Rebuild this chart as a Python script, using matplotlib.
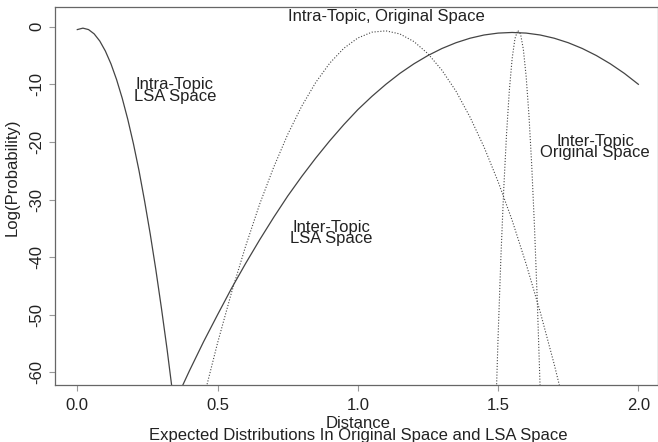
import matplotlib
matplotlib.use("Agg")
import matplotlib.pyplot as plt

# ── Curve values ──────────────────────────────────────────────────────────────

# Intra-Topic, LSA space (solid)
intra_lsa_x = [0.00, 0.02, 0.04, 0.06, 0.08, 0.10, 0.12, 0.14, 0.16, 0.18,
               0.20, 0.22, 0.24, 0.26, 0.28, 0.30, 0.32, 0.34]
intra_lsa_y = [-0.50, -0.25, -0.50, -1.24, -2.48, -4.22, -6.45, -9.18, -12.4, -16.1,
               -20.3, -25.0, -30.3, -36.0, -42.2, -48.9, -56.0, -63.7]

# Inter-Topic, LSA space (solid)
inter_lsa_x = [0.36, 0.40, 0.45, 0.50, 0.55, 0.60, 0.65, 0.70, 0.75, 0.80,
               0.85, 0.90, 0.95, 1.00, 1.05, 1.10, 1.15, 1.20, 1.25, 1.30,
               1.35, 1.40, 1.45, 1.50, 1.55, 1.60, 1.65, 1.70, 1.75, 1.80,
               1.85, 1.90, 1.95, 2.00]
inter_lsa_y = [-63.9, -59.7, -54.7, -50.0, -45.4, -41.1, -37.0, -33.1, -29.4, -26.0,
               -22.8, -19.8, -17.0, -14.4, -12.1, -10.0, -8.10, -6.44, -5.00, -3.78,
               -2.78, -2.00, -1.44, -1.11, -1.00, -1.11, -1.44, -2.00, -2.78, -3.78,
               -5.00, -6.44, -8.10, -10.0]

# Intra-Topic, original space (dotted)
intra_orig_x = [0.45, 0.50, 0.55, 0.60, 0.65, 0.70, 0.75, 0.80, 0.85, 0.90,
                0.95, 1.00, 1.05, 1.10, 1.15, 1.20, 1.25, 1.30, 1.35, 1.40,
                1.45, 1.50, 1.55, 1.60, 1.65, 1.70, 1.75]
intra_orig_y = [-64.5, -54.9, -46.1, -38.1, -30.8, -24.4, -18.7, -13.8, -9.67, -6.32,
                -3.75, -1.96, -0.95, -0.72, -1.26, -2.58, -4.69, -7.57, -11.2, -15.7,
                -20.9, -26.9, -33.6, -41.2, -49.5, -58.6, -68.5]

# Inter-Topic, original space (dotted)
inter_orig_x = [1.49, 1.50, 1.51, 1.52, 1.53, 1.54, 1.55, 1.56, 1.57, 1.58,
                1.59, 1.60, 1.61, 1.62, 1.63, 1.64, 1.65, 1.66]
inter_orig_y = [-69.6, -53.8, -40.0, -28.3, -18.7, -11.1, -5.56, -2.08, -0.64, -1.26,
                -3.92, -8.64, -15.4, -24.2, -35.1, -48.0, -63.0, -80.0]

x_ticks = [0.0, 0.5, 1.0, 1.5, 2.0]
x_tick_labels = ["0.0", "0.5", "1.0", "1.5", "2.0"]
y_ticks = [0, -10, -20, -30, -40, -50, -60]
y_tick_labels = ["0", "-10", "-20", "-30", "-40", "-50", "-60"]

# curve annotations: (text, x centre, y of text top)
labels = [
    ("Intra-Topic\nLSA Space", 0.348, -8.8),
    ("Inter-Topic\nLSA Space", 0.905, -33.5),
    ("Inter-Topic\nOriginal Space", 1.846, -18.6),
    ("Intra-Topic, Original Space", 1.100, 3.0),
]

plt.rcParams["font.family"] = ["Liberation Sans", "DejaVu Sans"]
FS = 12
LINE_C = "#444444"
TEXT_C = "#222222"

fig = plt.figure(figsize=(6.58, 4.42), dpi=100)
ax = fig.add_axes([55 / 658, 1 - 385 / 442, 1 - 55 / 658, (385 - 7) / 442])

ax.plot(intra_lsa_x, intra_lsa_y, color=LINE_C, linewidth=0.9)
ax.plot(inter_lsa_x, inter_lsa_y, color=LINE_C, linewidth=0.9)
ax.plot(intra_orig_x, intra_orig_y, color=LINE_C, linewidth=0.8, linestyle=(0, (1, 1.6)))
ax.plot(inter_orig_x, inter_orig_y, color=LINE_C, linewidth=0.8, linestyle=(0, (1, 1.6)))

ax.set_xlim(-0.0795, 2.070)
ax.set_ylim(-62.2, 3.42)

for txt, lx, ly in labels:
    ax.text(lx, ly, txt, ha="center", va="top", fontsize=FS, color=TEXT_C,
            linespacing=0.70)

ax.set_xticks(x_ticks)
ax.set_xticklabels(x_tick_labels)
ax.set_yticks(y_ticks)
ax.set_yticklabels(y_tick_labels, rotation=90, va="center")
ax.tick_params(axis="both", length=4, width=0.8, color="#999999",
               labelsize=FS, labelcolor=TEXT_C)
ax.tick_params(axis="x", pad=5)
ax.tick_params(axis="y", pad=4)

for sp in ax.spines.values():
    sp.set_color("#666666")
    sp.set_linewidth(0.9)

fig.text(12 / 658, 1 - 177 / 442, "Log(Probability)", rotation=90,
         ha="center", va="center", fontsize=FS, color=TEXT_C)
# x label and sub-title share one block, lines set tight as in the original
fig.text(358.5 / 658, 1 - 416 / 442,
         "Distance\nExpected Distributions In Original Space and LSA Space",
         ha="center", va="top", fontsize=FS, color=TEXT_C, linespacing=0.76)

fig.savefig("out.png", dpi=100)
